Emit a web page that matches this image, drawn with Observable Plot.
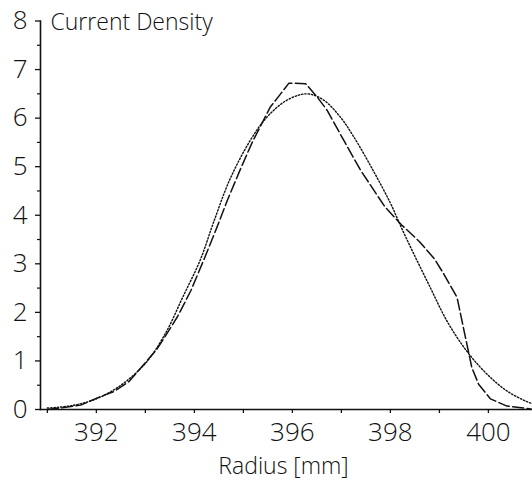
<!DOCTYPE html>
<html>
<head>
<meta charset="utf-8">
<script src="https://cdn.jsdelivr.net/npm/d3@7"></script>
<script src="https://cdn.jsdelivr.net/npm/@observablehq/plot@0.6"></script>
<style>
  html, body { margin: 0; padding: 0; background: #fff; }
  #chart { width: 532px; height: 480px; }
</style>
</head>
<body>
<div id="chart"></div>
<script>
// Measured current density (dashed curve)
const radiusMeasured = [391.0, 391.27, 391.68, 392.02, 392.36, 392.67, 392.91, 393.22, 393.42, 393.66, 393.93, 394.2, 394.46, 394.67, 394.94, 395.18, 395.55, 395.76, 395.93, 396.27, 396.51, 396.71, 397.05, 397.39, 397.89, 398.23, 398.6, 398.9, 399.09, 399.36, 399.46, 399.56, 399.66, 399.8, 400.04, 400.38, 400.87];
const densityMeasured = [0.0, 0.03, 0.09, 0.24, 0.37, 0.58, 0.86, 1.22, 1.53, 1.92, 2.45, 3.1, 3.75, 4.3, 4.95, 5.5, 6.23, 6.5, 6.72, 6.71, 6.43, 6.16, 5.54, 4.93, 4.17, 3.8, 3.45, 3.1, 2.79, 2.31, 1.83, 1.35, 0.87, 0.52, 0.22, 0.07, 0.01];

// Fitted current density (dotted curve)
const radiusFit = [391.0, 391.5, 392.0, 392.5, 393.0, 393.4, 393.78, 394.12, 394.39, 394.73, 395.14, 395.48, 395.89, 396.3, 396.64, 396.98, 397.25, 397.66, 398.0, 398.2, 398.47, 398.81, 399.15, 399.56, 399.97, 400.38, 400.79, 400.9];
const densityFit = [0.03, 0.08, 0.22, 0.5, 0.95, 1.55, 2.35, 3.08, 3.85, 4.75, 5.54, 6.02, 6.37, 6.5, 6.37, 6.02, 5.62, 4.9, 4.25, 3.8, 3.22, 2.52, 1.83, 1.2, 0.73, 0.38, 0.16, 0.12];

const xTicks = [392, 394, 396, 398, 400];
const xMinorTicks = [391, 393, 395, 397, 399];
const yTicks = [0, 1, 2, 3, 4, 5, 6, 7, 8];
const yMinorTicks = [0.5, 1.5, 2.5, 3.5, 4.5, 5.5, 6.5, 7.5];

const yLabel = "Current Density";
const xLabel = "Radius [mm]";

const measured = radiusMeasured.map((r, i) => ({r, d: densityMeasured[i]}));
const fitted = radiusFit.map((r, i) => ({r, d: densityFit[i]}));

const ink = "#111";
const font = "'Open Sans', 'DejaVu Sans Condensed', sans-serif";

const chart = Plot.plot({
  width: 532,
  height: 480,
  marginLeft: 40,
  marginRight: 0,
  marginTop: 20.5,
  marginBottom: 71,
  style: {fontFamily: font, color: ink, background: "#fff", fontWeight: 300},
  x: {domain: [390.86, 400.9]},
  y: {domain: [0, 8]},
  marks: [
    Plot.frame({anchor: "left", stroke: ink, strokeWidth: 1.6}),
    Plot.frame({anchor: "bottom", stroke: ink, strokeWidth: 1.6}),
    Plot.axisX({ticks: xTicks, tickSize: 4, tickPadding: 9, fontSize: 26, fontWeight: 300, label: null, stroke: ink, strokeWidth: 1.3}),
    Plot.axisX({ticks: xMinorTicks, tickSize: 4, tickFormat: () => "", label: null, stroke: ink, strokeWidth: 1.3}),
    Plot.axisY({ticks: yTicks, tickSize: 5, tickPadding: 8, fontSize: 26, fontWeight: 300, label: null, stroke: ink, strokeWidth: 1.3}),
    Plot.axisY({ticks: yMinorTicks, tickSize: 3, tickFormat: () => "", label: null, stroke: ink, strokeWidth: 1.2}),
    Plot.line(fitted, {x: "r", y: "d", curve: "catmull-rom", stroke: ink, strokeWidth: 1.4, strokeDasharray: "1.4,1.9"}),
    Plot.line(measured, {x: "r", y: "d", curve: "linear", stroke: ink, strokeWidth: 1.5, strokeDasharray: "11,3.5"}),
    Plot.text([yLabel], {frameAnchor: "top-left", dx: 10, dy: 2, lineAnchor: "middle", textAnchor: "start", fontSize: 23, fontWeight: 300, fill: ink}),
    Plot.text([xLabel], {frameAnchor: "bottom", dy: 57, dx: -3, lineAnchor: "middle", fontSize: 23, fontWeight: 300, fill: ink})
  ]
});
document.getElementById("chart").appendChild(chart);
</script>
</body>
</html>
